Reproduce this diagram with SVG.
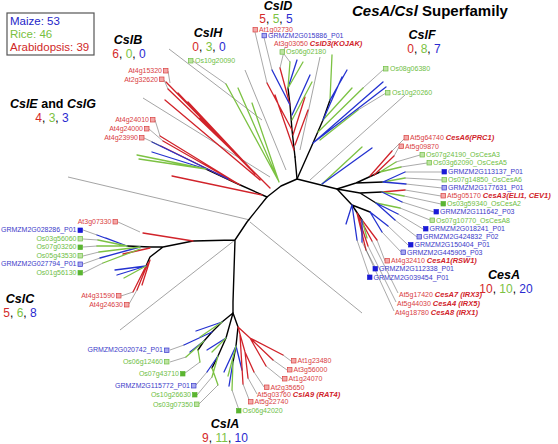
<svg xmlns="http://www.w3.org/2000/svg" width="558" height="444" viewBox="0 0 558 444">
<style>
text{font-family:"Liberation Sans",Arial,sans-serif}
.k{stroke:#000;stroke-width:1.4;fill:none;stroke-linecap:round;stroke-linejoin:round}
.r{stroke:#d1232a;stroke-width:1.3;fill:none;stroke-linecap:round}
.g{stroke:#7cc243;stroke-width:1.3;fill:none;stroke-linecap:round}
.b{stroke:#2432d0;stroke-width:1.3;fill:none;stroke-linecap:round}
.sep{stroke:#666;stroke-width:0.6;fill:none}
.ld{stroke:#555;stroke-width:0.5;fill:none}
.t{font-size:7px}
.tr{fill:#d9403f}.tg{fill:#6ebe44}.tb{fill:#3b3bc9}
.bi{font-weight:bold;font-style:italic;font-size:7.5px;fill:#d1232a}
.e{text-anchor:end}
.srl{fill:#f3a9a9;stroke:#d9403f;stroke-width:0.7}
.sgl{fill:#bfe3a3;stroke:#6ebe44;stroke-width:0.7}
.sbl{fill:#a9aaf0;stroke:#3b3bc9;stroke-width:0.7}
.sbf{fill:#1a1ad6;stroke:#1a1ad6;stroke-width:0.7}
.sgf{fill:#5bb531;stroke:#5bb531;stroke-width:0.7}
.cl{font-size:12.5px;font-weight:bold;font-style:italic;text-anchor:middle}
.ct{font-size:12px;text-anchor:middle}
.cr{fill:#d42a2a}.cg{fill:#7cc243}.cb{fill:#2a2ad0}
</style>

<g id="connectors">
<path class="sep" d="M143,98L270,177M169,49L262,120M245,70L286,170M320,57L300,150M405,95L310,180M250,222L362,313M120,330L235,240M68,177L250,220"/>
<path class="k" d="M127,246L150,247L163,247L193,241L235,240L247,222L267,197L281,186L297,179L337,189M235,240L233,302L233,313M297,179L295,157M163,247L150,257L146,266"/>
<path class="k" d="M233,313L222,322L212,332L204,341L198,350M233,313L226,338L218,356L212,368M233,313L238,327L236,346L233,362"/>
<path class="b" d="M222,322L196,331M212,332L184,345M204,341L190,352M226,338L207,350M218,356L207,372M236,346L224,372M233,362L229,386M236,346L242,370"/>
<path class="g" d="M222,322L200,337M204,341L186,357M198,350L200,362M226,338L212,352M218,356L212,377M212,368L218,385M236,346L228,376M233,362L232,390"/>
<path class="r" d="M238,327L250,338L283,355M250,338L273,360M250,338L266,366M238,327L245,352L254,372M245,352L248,378M240,335L243,384"/>
<path class="ld" d="M170,350L184,345M170,362L186,357M185,373L200,362M196,385L207,372M197,395L212,377M199,404L218,385M239,410L232,390M250,402L243,384M257,394L248,378M264,387L254,372M282,379L266,366M287,370L273,360M291,361L283,355"/>
<path class="r" d="M193,241L143,233M150,248L123,254M146,266L133,292M148,263L137,290M150,260L142,285"/>
<path class="b" d="M127,246L97,235M127,246L106,238M140,247L100,258M146,266L115,270M146,266L117,275"/>
<path class="g" d="M127,246L98,240M127,246L97,246M140,247L99,252M140,249L103,263M146,266L124,278"/>
<path class="ld" d="M118,222L140,232M83,230L97,235M83,239L98,240M83,247L97,246M83,256L99,252M83,264L100,258M83,273L103,263M121,296L133,292M129,304L137,290"/>
<path class="k" d="M267,197L238,184L206,169"/>
<path class="r" d="M240,185L160,136M240,185L163,141M236,183L161,146M262,195L172,176"/>
<path class="b" d="M228,179L152,142M206,169L152,152"/>
<path class="g" d="M206,169L137,155M206,169L139,159"/>
<path class="ld" d="M155,120L160,136M149,129L163,141M144,138L161,146"/>
<path class="r" d="M270,188L242,160L166,82M242,160L168,89M242,160L178,93M250,168L188,102M260,180L165,100M255,174L200,118"/>
<path class="ld" d="M168,71L170,83M164,80L168,89"/>
<path class="g" d="M278,180L226,84M278,180L238,88M279,182L252,103"/>
<path class="ld" d="M193,61L226,84"/>
<path class="k" d="M295,157L292,130L290,105L288,88"/>
<path class="r" d="M292,130L267,83M294,150L275,95M290,105L280,68M293,135L305,97M295,145L308,110"/>
<path class="b" d="M290,105L272,70M288,88L297,60M292,115L310,75"/>
<path class="g" d="M288,88L290,62M288,88L303,62M292,120L312,82"/>
<path class="ld" d="M255,32L267,83M264,37.5L272,70M285,47L280,68M284,54L290,62"/>
<path class="k" d="M297,179L313,143L323,120L330,100"/>
<path class="g" d="M330,100L332,55M323,120L352,88M318,132L363,88M320,140L358,110M322,184L362,147"/>
<path class="b" d="M330,100L347,70M323,120L342,77M313,143L383,82M313,143L386,87M322,184L372,148"/>
<path class="ld" d="M384,69L363,88M386,93L358,110"/>
<path class="k" d="M337,189L356,183L380,172M356,183L383,182M337,189L360,193L382,192M360,193L376,203M337,189L352,205L362,220M352,205L370,212M352,205L357,213"/>
<path class="r" d="M370,176L392,151M374,175L394,156M382,192L405,190M362,220L377,240M357,213L372,241M357,213L368,246M357,213L366,250"/>
<path class="g" d="M380,172L396,162M380,172L401,167M383,182L405,178M382,192L404,196M376,203L400,208M362,220L367,238"/>
<path class="b" d="M383,182L405,172M383,182L406,184M382,192L402,202M376,203L398,214M376,203L395,220M370,212L388,226M370,212L382,232M362,220L362,242M352,205L346,224M352,205L357,240"/>
<path class="ld" d="M404,139L392,151M399,147L394,156M420,155L396,162M427,163L401,167M442,172L405,172M442,180L405,178M442,188L406,184M441,196L405,190M441,204L404,196M434,212L402,202M430,220L400,208M423,229L398,214M417,237L395,220M408,245L388,226M401,252L382,232M385,261L377,240M375,267L362,242M369,275L357,240M398,293L372,241M396,302L368,246M394,311L366,250"/>
</g>

<g id="legend">
<rect x="7" y="13" width="87" height="42" fill="#fff" stroke="#555" stroke-width="1.2"/>
<text x="10" y="25" font-size="11.5" fill="#2525c8">Maize: 53</text>
<text x="10" y="38" font-size="11.5" fill="#78c040">Rice: 46</text>
<text x="10" y="51" font-size="11.5" fill="#d02828">Arabidopsis: 39</text>
</g>

<g id="title"><text x="352" y="16" font-size="15" font-weight="bold"><tspan font-style="italic">CesA/Csl</tspan> Superfamily</text></g>

<g id="clade-CslB"><text class="cl" x="128" y="44">CslB</text><text class="ct" x="129" y="58"><tspan class="cr">6</tspan>, <tspan class="cg">0</tspan>, <tspan class="cb">0</tspan></text></g>
<g id="clade-CslH"><text class="cl" x="208" y="37">CslH</text><text class="ct" x="209" y="51"><tspan class="cr">0</tspan>, <tspan class="cg">3</tspan>, <tspan class="cb">0</tspan></text></g>
<g id="clade-CslD"><text class="cl" x="278" y="9.6">CslD</text><text class="ct" x="276" y="22.9"><tspan class="cr">5</tspan>, <tspan class="cg">5</tspan>, <tspan class="cb">5</tspan></text></g>
<g id="clade-CslF"><text class="cl" x="422" y="39">CslF</text><text class="ct" x="424" y="53"><tspan class="cr">0</tspan>, <tspan class="cg">8</tspan>, <tspan class="cb">7</tspan></text></g>
<g id="clade-CslEG"><text x="53" y="108" font-size="12.5" font-weight="bold" text-anchor="middle"><tspan font-style="italic">CslE</tspan> and <tspan font-style="italic">CslG</tspan></text><text class="ct" x="52" y="122"><tspan class="cr">4</tspan>, <tspan class="cg">3</tspan>, <tspan class="cb">3</tspan></text></g>
<g id="clade-CslC"><text class="cl" x="20" y="303">CslC</text><text class="ct" x="20" y="317"><tspan class="cr">5</tspan>, <tspan class="cg">6</tspan>, <tspan class="cb">8</tspan></text></g>
<g id="clade-CslA"><text class="cl" x="225" y="428">CslA</text><text class="ct" x="225" y="441.5"><tspan class="cr">9</tspan>, <tspan class="cg">11</tspan>, <tspan class="cb">10</tspan></text></g>
<g id="clade-CesA"><text class="cl" x="504" y="279">CesA</text><text class="ct" x="506" y="293"><tspan class="cr">10</tspan>, <tspan class="cg">10</tspan>, <tspan class="cb">20</tspan></text></g>

<g id="At1g02730"><rect class="srl" x="253" y="27.5" width="4.5" height="4.5"/><text class="t tr" x="259" y="31.8">At1g02730</text></g>
<g id="GRMZM2G015886"><rect class="sbl" x="262" y="33.3" width="4.5" height="4.5"/><text class="t tb" x="268" y="37.7">GRMZM2G015886_P01</text></g>
<g id="At3g03050"><text class="t tr" x="274" y="45.6">At3g03050 <tspan class="bi" font-size="7">CslD3(KOJAK)</tspan></text></g>
<g id="Os06g02180"><rect class="sgl" x="280" y="49.7" width="4.5" height="4.5"/><text class="t tg" x="286" y="54">Os06g02180</text></g>
<g id="Os10g20090"><rect class="sgl" x="188.5" y="58.5" width="4.5" height="4.5"/><text class="t tg" x="195" y="63">Os10g20090</text></g>
<g id="At4g15320"><rect class="srl" x="163.5" y="68.5" width="4.5" height="4.5"/><text class="t tr e" x="162" y="73">At4g15320</text></g>
<g id="At2g32620"><rect class="srl" x="159.5" y="77" width="4.5" height="4.5"/><text class="t tr e" x="158" y="81.5">At2g32620</text></g>
<g id="Os08g06380"><rect class="sgl" x="383.5" y="66.5" width="4.5" height="4.5"/><text class="t tg" x="390" y="71">Os08g06380</text></g>
<g id="Os10g20260"><rect class="sgl" x="385.5" y="90.5" width="4.5" height="4.5"/><text class="t tg" x="392" y="95">Os10g20260</text></g>
<g id="At4g24010"><rect class="srl" x="150.5" y="117.5" width="4.5" height="4.5"/><text class="t tr e" x="149" y="122">At4g24010</text></g>
<g id="At4g24000"><rect class="srl" x="144.5" y="126.5" width="4.5" height="4.5"/><text class="t tr e" x="143" y="131">At4g24000</text></g>
<g id="At4g23990"><rect class="srl" x="139.5" y="135.5" width="4.5" height="4.5"/><text class="t tr e" x="138" y="140">At4g23990</text></g>
<g id="At5g64740"><rect class="srl" x="404" y="135.5" width="4.5" height="4.5"/><text class="t tr" x="410" y="140">At5g64740 <tspan class="bi">CesA6(PRC1)</tspan></text></g>
<g id="At5g09870"><rect class="srl" x="399" y="144" width="4.5" height="4.5"/><text class="t tr" x="405" y="148.5">At5g09870</text></g>
<g id="Os07g24190"><rect class="sgl" x="420" y="152.5" width="4.5" height="4.5"/><text class="t tg" x="426" y="157">Os07g24190_OsCesA3</text></g>
<g id="Os03g62090"><rect class="sgl" x="427" y="160.5" width="4.5" height="4.5"/><text class="t tg" x="433" y="165">Os03g62090_OsCesA5</text></g>
<g id="GRMZM2G113137"><rect class="sbf" x="442" y="169.5" width="4.5" height="4.5"/><text class="t tb" x="448" y="174">GRMZM2G113137_P01</text></g>
<g id="Os07g14850"><rect class="sgl" x="442" y="177.5" width="4.5" height="4.5"/><text class="t tg" x="448" y="182">Os07g14850_OsCesA6</text></g>
<g id="GRMZM2G177631"><rect class="sbl" x="442" y="185.5" width="4.5" height="4.5"/><text class="t tb" x="448" y="190">GRMZM2G177631_P01</text></g>
<g id="At5g05170"><rect class="srl" x="441" y="193.5" width="4.5" height="4.5"/><text class="t tr" x="447" y="198">At5g05170 <tspan class="bi">CesA3(ELI1, CEV1)</tspan></text></g>
<g id="Os03g59340"><rect class="sgf" x="441" y="201.5" width="4.5" height="4.5"/><text class="t tg" x="447" y="206">Os03g59340_OsCesA2</text></g>
<g id="GRMZM2G111642"><rect class="sbf" x="434" y="209.5" width="4.5" height="4.5"/><text class="t tb" x="440" y="214">GRMZM2G111642_P03</text></g>
<g id="Os07g10770"><rect class="sgl" x="430" y="218" width="4.5" height="4.5"/><text class="t tg" x="436" y="222.5">Os07g10770_OsCesA8</text></g>
<g id="GRMZM2G018241"><rect class="sbf" x="423.5" y="226.5" width="4.5" height="4.5"/><text class="t tb" x="429.5" y="231">GRMZM2G018241_P01</text></g>
<g id="GRMZM2G424832"><rect class="sbl" x="417" y="234.5" width="4.5" height="4.5"/><text class="t tb" x="423" y="239">GRMZM2G424832_P02</text></g>
<g id="GRMZM2G150404"><rect class="sbf" x="408.5" y="242.5" width="4.5" height="4.5"/><text class="t tb" x="414.5" y="247">GRMZM2G150404_P01</text></g>
<g id="GRMZM2G445905"><rect class="sbl" x="401" y="250" width="4.5" height="4.5"/><text class="t tb" x="407" y="254.5">GRMZM2G445905_P03</text></g>
<g id="At4g32410"><rect class="srl" x="385" y="258.5" width="4.5" height="4.5"/><text class="t tr" x="391" y="263">At4g32410 <tspan class="bi">CesA1(RSW1)</tspan></text></g>
<g id="GRMZM2G112338"><rect class="sbf" x="373" y="266.5" width="4.5" height="4.5"/><text class="t tb" x="379" y="271">GRMZM2G112338_P01</text></g>
<g id="GRMZM2G039454"><rect class="sbf" x="367.5" y="275" width="4.5" height="4.5"/><text class="t tb" x="373.5" y="279.5">GRMZM2G039454_P01</text></g>
<g id="At5g17420"><text class="t tr" x="399" y="297">At5g17420 <tspan class="bi">CesA7 (IRX3)</tspan></text></g>
<g id="At5g44030"><text class="t tr" x="397" y="306">At5g44030 <tspan class="bi">CesA4 (IRX5)</tspan></text></g>
<g id="At4g18780"><text class="t tr" x="395" y="315">At4g18780 <tspan class="bi">CesA8 (IRX1)</tspan></text></g>
<g id="At3g07330"><rect class="srl" x="113" y="219.5" width="4.5" height="4.5"/><text class="t tr e" x="111.5" y="224">At3g07330</text></g>
<g id="GRMZM2G028286"><rect class="sbf" x="78" y="228" width="4.5" height="4.5"/><text class="t tb e" x="76.5" y="232">GRMZM2G028286_P01</text></g>
<g id="Os03g56060"><rect class="sgl" x="78" y="236.5" width="4.5" height="4.5"/><text class="t tg e" x="76.5" y="241">Os03g56060</text></g>
<g id="Os07g03260"><rect class="sgf" x="78" y="245" width="4.5" height="4.5"/><text class="t tg e" x="76.5" y="249">Os07g03260</text></g>
<g id="Os05g43530"><rect class="sgl" x="78" y="253.5" width="4.5" height="4.5"/><text class="t tg e" x="76.5" y="258">Os05g43530</text></g>
<g id="GRMZM2G027794"><rect class="sbl" x="78" y="262" width="4.5" height="4.5"/><text class="t tb e" x="76.5" y="266">GRMZM2G027794_P01</text></g>
<g id="Os01g56130"><rect class="sgf" x="78" y="270.5" width="4.5" height="4.5"/><text class="t tg e" x="76.5" y="275">Os01g56130</text></g>
<g id="At4g31590"><rect class="srl" x="116.5" y="293.5" width="4.5" height="4.5"/><text class="t tr e" x="115" y="298">At4g31590</text></g>
<g id="At4g24630"><rect class="srl" x="124.5" y="302.5" width="4.5" height="4.5"/><text class="t tr e" x="123" y="307">At4g24630</text></g>
<g id="GRMZM2G020742"><rect class="sbl" x="164.5" y="348" width="4.5" height="4.5"/><text class="t tb e" x="163" y="352">GRMZM2G020742_P01</text></g>
<g id="Os06g12460"><rect class="sgl" x="164.5" y="359.5" width="4.5" height="4.5"/><text class="t tg e" x="163" y="364">Os06g12460</text></g>
<g id="Os07g43710"><rect class="sgf" x="180.5" y="371.5" width="4.5" height="4.5"/><text class="t tg e" x="179" y="376">Os07g43710</text></g>
<g id="GRMZM2G115772"><rect class="sbl" x="191.5" y="383.5" width="4.5" height="4.5"/><text class="t tb e" x="190" y="388">GRMZM2G115772_P01</text></g>
<g id="Os10g26630"><rect class="sgf" x="192.5" y="392.5" width="4.5" height="4.5"/><text class="t tg e" x="191" y="397">Os10g26630</text></g>
<g id="Os03g07350"><rect class="sgl" x="194.5" y="402" width="4.5" height="4.5"/><text class="t tg e" x="193" y="407">Os03g07350</text></g>
<g id="Os06g42020"><rect class="sgf" x="236.5" y="408.5" width="4.5" height="4.5"/><text class="t tg" x="242.5" y="413">Os06g42020</text></g>
<g id="At5g22740"><rect class="srl" x="248.5" y="399.5" width="4.5" height="4.5"/><text class="t tr" x="254.5" y="404">At5g22740</text></g>
<g id="At5g03760"><text class="t tr" x="257" y="396.5">At5g03760 <tspan class="bi">CslA9 (RAT4)</tspan></text></g>
<g id="At2g35650"><rect class="srl" x="264.5" y="385" width="4.5" height="4.5"/><text class="t tr" x="270.5" y="389.5">At2g35650</text></g>
<g id="At1g24070"><rect class="srl" x="282.5" y="376.5" width="4.5" height="4.5"/><text class="t tr" x="288.5" y="381">At1g24070</text></g>
<g id="At3g56000"><rect class="srl" x="287.5" y="367.5" width="4.5" height="4.5"/><text class="t tr" x="293.5" y="372">At3g56000</text></g>
<g id="At1g23480"><rect class="srl" x="291.5" y="358.5" width="4.5" height="4.5"/><text class="t tr" x="297.5" y="363">At1g23480</text></g>
</svg>
